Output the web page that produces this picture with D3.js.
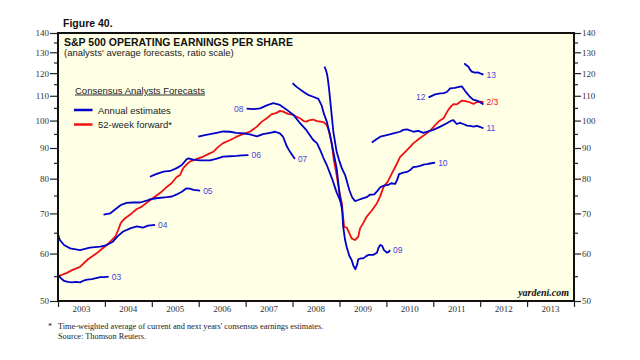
<!DOCTYPE html>
<html><head><meta charset="utf-8">
<script src="https://cdn.jsdelivr.net/npm/d3@7"></script>
<style>body{margin:0;background:#fff;} svg{display:block;}</style>
</head><body><svg id="c" width="640" height="360"></svg>
<script>
// ---- data: [decimal year, EPS $] ----
const est03 = [[2003.00,55.3],[2003.06,54.6],[2003.13,54.0],[2003.21,53.8],[2003.30,53.7],[2003.38,53.8],[2003.47,53.7],[2003.53,54.0],[2003.62,54.3],[2003.72,54.4],[2003.81,54.6],[2003.90,54.8],[2003.98,54.8],[2004.08,54.9]];
const est04 = [[2003.00,64.6],[2003.04,63.2],[2003.13,62.0],[2003.26,61.2],[2003.47,60.8],[2003.68,61.4],[2003.90,61.6],[2004.04,62.0],[2004.17,62.8],[2004.28,64.2],[2004.39,65.3],[2004.54,66.1],[2004.68,66.6],[2004.81,66.3],[2004.92,66.8],[2005.07,67.0]];
const est05 = [[2003.97,69.7],[2004.11,70.0],[2004.25,71.4],[2004.34,72.3],[2004.46,72.9],[2004.60,73.0],[2004.75,73.0],[2004.89,73.5],[2004.96,73.9],[2005.09,74.2],[2005.32,74.5],[2005.43,74.7],[2005.53,75.3],[2005.64,76.1],[2005.74,77.1],[2005.81,77.0],[2005.89,76.6],[2006.03,76.4]];
const est06 = [[2004.96,80.6],[2005.09,81.4],[2005.25,82.2],[2005.39,82.4],[2005.53,83.3],[2005.64,84.3],[2005.73,86.0],[2005.78,86.5],[2005.88,86.1],[2006.03,85.8],[2006.24,85.8],[2006.37,86.3],[2006.52,87.1],[2006.67,87.2],[2006.81,87.3],[2006.92,87.5],[2007.06,87.6]];
const est07 = [[2005.99,94.0],[2006.13,94.6],[2006.24,94.9],[2006.38,95.4],[2006.52,95.9],[2006.67,95.8],[2006.80,95.4],[2006.95,95.2],[2007.09,94.8],[2007.24,94.1],[2007.37,94.9],[2007.52,95.4],[2007.63,95.8],[2007.73,95.2],[2007.80,93.9],[2007.88,90.5],[2007.95,88.6],[2008.05,86.3]];
const est08 = [[2007.02,104.7],[2007.16,104.5],[2007.31,104.8],[2007.45,106.0],[2007.59,106.9],[2007.73,106.2],[2007.88,104.2],[2008.02,102.2],[2008.16,99.0],[2008.30,96.3],[2008.44,92.8],[2008.52,91.7],[2008.59,89.3],[2008.66,86.6],[2008.73,84.3],[2008.84,80.1],[2008.94,75.9],[2009.01,73.7],[2009.06,71.5]];
const est09 = [[2008.00,115.4],[2008.10,113.6],[2008.23,111.7],[2008.33,110.4],[2008.44,109.6],[2008.55,108.7],[2008.62,106.0],[2008.67,102.6],[2008.73,99.6],[2008.80,94.6],[2008.87,88.7],[2008.94,83.3],[2008.98,78.1],[2009.01,74.5],[2009.04,72.3],[2009.06,70.4],[2009.08,66.5],[2009.12,63.2],[2009.16,61.3],[2009.21,59.5],[2009.26,58.5],[2009.30,57.2],[2009.34,56.5],[2009.38,57.6],[2009.40,58.7],[2009.46,58.9],[2009.51,58.9],[2009.57,59.4],[2009.62,59.7],[2009.67,59.7],[2009.72,59.7],[2009.80,60.2],[2009.83,61.3],[2009.87,62.0],[2009.91,61.8],[2009.95,60.8],[2010.01,60.2],[2010.05,60.4],[2010.08,60.8]];
const est10 = [[2008.68,123.0],[2008.71,121.5],[2008.74,119.1],[2008.76,116.0],[2008.78,112.6],[2008.82,104.8],[2008.87,95.8],[2008.94,88.7],[2008.99,86.0],[2009.05,83.3],[2009.12,81.1],[2009.16,79.1],[2009.21,76.6],[2009.27,74.5],[2009.33,73.4],[2009.40,73.7],[2009.48,74.1],[2009.58,74.5],[2009.65,75.2],[2009.74,75.3],[2009.80,76.2],[2009.87,77.4],[2009.95,77.9],[2010.04,78.1],[2010.10,78.6],[2010.19,78.4],[2010.23,79.6],[2010.27,81.4],[2010.36,81.9],[2010.44,82.1],[2010.51,82.7],[2010.57,83.6],[2010.65,83.8],[2010.72,84.0],[2010.81,84.5],[2010.87,84.6],[2010.93,84.8],[2011.04,85.1]];
const est11 = [[2009.69,91.9],[2009.78,93.0],[2009.87,94.0],[2010.01,94.6],[2010.15,95.2],[2010.29,95.8],[2010.36,96.5],[2010.44,96.7],[2010.58,95.8],[2010.68,96.1],[2010.79,95.4],[2010.89,95.9],[2011.00,96.5],[2011.15,97.7],[2011.29,99.0],[2011.39,100.0],[2011.43,100.2],[2011.50,98.7],[2011.57,99.1],[2011.64,98.7],[2011.72,98.1],[2011.78,98.0],[2011.86,97.7],[2011.93,98.0],[2011.99,97.6],[2012.07,97.1]];
const est12 = [[2010.90,109.3],[2011.04,110.6],[2011.15,111.0],[2011.22,111.1],[2011.29,111.6],[2011.36,113.2],[2011.46,113.4],[2011.57,113.9],[2011.61,114.0],[2011.68,112.0],[2011.78,109.6],[2011.85,108.4],[2011.93,108.0],[2011.99,107.4],[2012.07,106.4]];
const est13 = [[2011.66,124.6],[2011.70,123.8],[2011.75,123.0],[2011.78,121.7],[2011.82,120.7],[2011.89,120.2],[2011.96,120.3],[2012.00,119.9],[2012.07,119.3]];
const fwd52 = [[2003.01,55.0],[2003.09,55.3],[2003.19,55.7],[2003.30,56.3],[2003.47,57.0],[2003.64,58.7],[2003.83,60.1],[2003.94,61.1],[2004.04,62.0],[2004.13,63.0],[2004.22,64.0],[2004.28,65.6],[2004.34,67.5],[2004.41,68.5],[2004.57,70.0],[2004.68,71.2],[2004.78,71.8],[2004.89,72.9],[2005.00,74.0],[2005.10,75.0],[2005.21,76.1],[2005.32,77.5],[2005.42,78.6],[2005.53,80.5],[2005.60,81.1],[2005.67,83.3],[2005.75,84.6],[2005.81,85.4],[2005.96,86.3],[2006.10,87.1],[2006.20,87.9],[2006.31,88.7],[2006.41,90.3],[2006.52,91.7],[2006.67,92.8],[2006.81,94.0],[2006.95,95.0],[2007.09,95.8],[2007.24,97.7],[2007.34,99.5],[2007.45,100.9],[2007.55,102.4],[2007.66,103.0],[2007.73,103.8],[2007.80,103.5],[2007.90,102.6],[2008.02,102.2],[2008.09,101.4],[2008.16,100.9],[2008.24,99.8],[2008.30,99.6],[2008.37,100.2],[2008.44,100.4],[2008.52,99.8],[2008.59,99.6],[2008.66,99.4],[2008.73,98.3],[2008.78,95.7],[2008.84,91.1],[2008.88,86.0],[2008.94,81.1],[2008.99,76.6],[2009.05,72.9],[2009.08,68.8],[2009.10,66.5],[2009.16,66.2],[2009.21,64.9],[2009.26,63.6],[2009.33,63.2],[2009.40,64.0],[2009.44,66.1],[2009.51,67.5],[2009.58,69.1],[2009.69,70.8],[2009.80,72.8],[2009.87,74.8],[2009.94,77.5],[2010.03,79.1],[2010.12,81.7],[2010.21,84.3],[2010.29,86.9],[2010.44,89.3],[2010.58,91.7],[2010.72,93.5],[2010.86,95.2],[2010.95,96.5],[2011.04,98.3],[2011.12,99.7],[2011.22,100.9],[2011.27,102.6],[2011.32,104.2],[2011.38,105.6],[2011.43,106.5],[2011.50,106.4],[2011.54,107.0],[2011.61,108.0],[2011.68,107.8],[2011.75,107.5],[2011.82,106.9],[2011.86,106.6],[2011.93,107.4],[2011.99,107.5],[2012.07,107.4]];

const yMajor = [50,60,70,80,90,100,110,120,130,140];
const yMinor = [55,65,75,85,95,105,115,125,135];
const years = ["2003","2004","2005","2006","2007","2008","2009","2010","2011","2012","2013"];
const yearBounds = [2003,2004,2005,2006,2007,2008,2009,2010,2011,2012,2013,2014];

// series: data, label, label side
const annual = [
  {d:est03, t:"03", side:"end"},
  {d:est04, t:"04", side:"end"},
  {d:est05, t:"05", side:"end"},
  {d:est06, t:"06", side:"end"},
  {d:est07, t:"07", side:"end"},
  {d:est08, t:"08", side:"start"},
  {d:est09, t:"09", side:"end"},
  {d:est10, t:"10", side:"end"},
  {d:est11, t:"11", side:"end"},
  {d:est12, t:"12", side:"start"},
  {d:est13, t:"13", side:"end"}
];

const BLUE = "#0000c8", RED = "#ee1111", LBLUE = "#4646d8";
const SANS = "'Liberation Sans', Arial, sans-serif";
const SERIF = "'Liberation Serif', 'Times New Roman', serif";

const L = 58, R = 574, T = 33, B = 301;
const svg = d3.select("#c");
const x = d3.scaleLinear().domain([2003, 2014]).range([L, R]);
const y = d3.scaleLog().domain([50, 140]).range([B, T]);
const xb = d3.scaleBand().domain(years).range([L, R]);

// background plot
svg.append("rect").attr("x", L).attr("y", T).attr("width", R - L).attr("height", B - T).attr("fill", "#ffffe6");

svg.append("defs").append("clipPath").attr("id", "clip")
  .append("rect").attr("x", L).attr("y", T).attr("width", R - L).attr("height", B - T);

// axes
function styleAxis(g) {
  g.select(".domain").remove();
  g.selectAll("line").attr("stroke", "#222").attr("stroke-width", 1.2);
  g.selectAll("text").attr("font-family", SERIF).attr("font-size", 9).attr("fill", "#333");
}
svg.append("g").attr("transform", `translate(${L},0)`)
  .call(d3.axisLeft(y).tickValues(yMajor).tickSize(8).tickPadding(1).tickFormat(d3.format("d"))).call(styleAxis);
svg.append("g").attr("transform", `translate(${L},0)`)
  .call(d3.axisLeft(y).tickValues(yMinor).tickSize(4).tickFormat("")).call(styleAxis);
svg.append("g").attr("transform", `translate(${R},0)`)
  .call(d3.axisRight(y).tickValues(yMajor).tickSize(7).tickPadding(1).tickFormat(d3.format("d"))).call(styleAxis);
svg.append("g").attr("transform", `translate(${R},0)`)
  .call(d3.axisRight(y).tickValues(yMinor).tickSize(4).tickFormat("")).call(styleAxis);
svg.append("g").attr("transform", `translate(0,${B})`)
  .call(d3.axisBottom(x).tickValues(yearBounds).tickSize(6).tickFormat("")).call(styleAxis);
svg.append("g").attr("transform", `translate(0,${B})`)
  .call(d3.axisBottom(xb).tickSize(0).tickPadding(5)).call(styleAxis);

// lines
const line = d3.line().x(d => x(d[0])).y(d => y(d[1]));
const plot = svg.append("g").attr("clip-path", "url(#clip)");
plot.append("path").datum(fwd52).attr("d", line).attr("fill", "none")
  .attr("stroke", RED).attr("stroke-width", 1.8).attr("stroke-linejoin", "round");
plot.selectAll(".est").data(annual).join("path").attr("class", "est")
  .attr("d", s => line(s.d)).attr("fill", "none")
  .attr("stroke", BLUE).attr("stroke-width", 1.8).attr("stroke-linejoin", "round");

// series labels
svg.selectAll(".lab").data(annual).join("text").attr("class", "lab")
  .attr("x", s => s.side === "end" ? x(s.d[s.d.length - 1][0]) + 3 : x(s.d[0][0]) - 3)
  .attr("y", s => s.side === "end" ? y(s.d[s.d.length - 1][1]) : y(s.d[0][1]))
  .attr("dy", "0.35em")
  .attr("text-anchor", s => s.side === "end" ? "start" : "end")
  .attr("font-family", SANS).attr("font-size", 8.5).attr("fill", LBLUE)
  .text(s => s.t);
const lastF = fwd52[fwd52.length - 1];
svg.append("text").attr("x", x(lastF[0]) + 3).attr("y", y(lastF[1])).attr("dy", "0.35em")
  .attr("font-family", SANS).attr("font-size", 8.5).attr("fill", RED).text("2/3");

// frame
svg.append("rect").attr("x", L).attr("y", T).attr("width", R - L).attr("height", B - T)
  .attr("fill", "none").attr("stroke", "#111").attr("stroke-width", 2);

// titles
svg.append("text").attr("x", 63).attr("y", 27).attr("font-family", SANS).attr("font-weight", "bold")
  .attr("font-size", 10.5).attr("fill", "#111").text("Figure 40.");
svg.append("text").attr("x", 64).attr("y", 45.5).attr("font-family", SANS).attr("font-weight", "bold")
  .attr("font-size", 10.5).attr("fill", "#111").text("S&P 500 OPERATING EARNINGS PER SHARE");
svg.append("text").attr("x", 64).attr("y", 56).attr("font-family", SANS)
  .attr("font-size", 9.5).attr("fill", "#222").text("(analysts' average forecasts, ratio scale)");

// legend
svg.append("text").attr("x", 75).attr("y", 93.5).attr("font-family", SANS)
  .attr("font-size", 9.5).attr("fill", "#222").attr("text-decoration", "underline")
  .text("Consensus Analysts Forecasts");
const leg = [{t:"Annual estimates", c:BLUE, yy:110}, {t:"52-week forward*", c:RED, yy:124.5}];
leg.forEach(l => {
  svg.append("line").attr("x1", 74).attr("x2", 92.5).attr("y1", l.yy).attr("y2", l.yy)
    .attr("stroke", l.c).attr("stroke-width", 2.5);
  svg.append("text").attr("x", 98).attr("y", l.yy + 3.5).attr("font-family", SANS)
    .attr("font-size", 9.5).attr("fill", "#222").text(l.t);
});

// credit
svg.append("text").attr("x", 569).attr("y", 296).attr("text-anchor", "end")
  .attr("font-family", SERIF).attr("font-style", "italic").attr("font-weight", "bold")
  .attr("font-size", 10).attr("fill", "#111").text("yardeni.com");

// footnote
svg.append("text").attr("x", 48).attr("y", 328.5).attr("font-family", SERIF).attr("font-size", 8).attr("fill", "#222").text("*");
svg.append("text").attr("x", 58).attr("y", 329).attr("font-family", SERIF).attr("font-size", 8.3).attr("fill", "#222")
  .text("Time-weighted average of current and next years' consensus earnings estimates.");
svg.append("text").attr("x", 58).attr("y", 338.5).attr("font-family", SERIF).attr("font-size", 8.3).attr("fill", "#222")
  .text("Source: Thomson Reuters.");
</script></body></html>
